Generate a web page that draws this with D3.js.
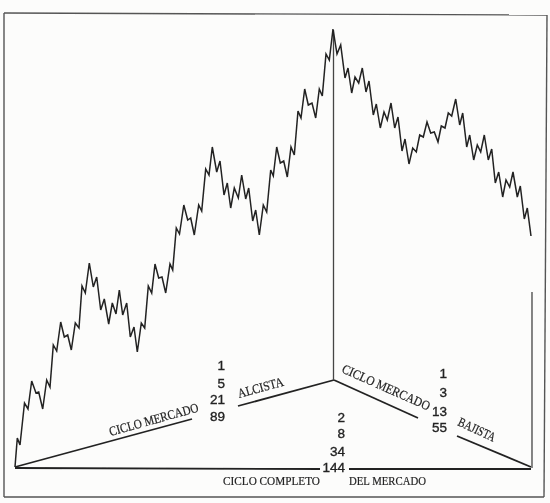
<!DOCTYPE html>
<html><head><meta charset="utf-8">
<script src="https://cdn.jsdelivr.net/npm/d3@7/dist/d3.min.js"></script>
<style>html,body{margin:0;padding:0;background:#fcfcfb}svg{display:block}
text{font-family:"Liberation Serif",serif;fill:#222;stroke:#222;stroke-width:.2}
.num{font-family:"Liberation Sans",sans-serif;stroke-width:.35}</style></head><body>
<svg id="c" width="550" height="503"></svg>
<script>
// time (bar position) and price level
const times=[0,2.3,5,9.5,13,16.7,21,23.7,27.7,31.7,35,38.3,41.7,45.7,49.3,52.7,56.3,60.3,64,67,70.3,74.3,78.3,81.7,85.7,89.3,93.7,97.3,101,104.3,107.7,111.7,115.3,119,122.3,126.3,129.7,133.3,136.7,140,143.7,147,150.7,155,157.7,161.3,164.5,168.8,172.7,175.7,179.3,183.7,186.7,190.7,194,197.3,201.7,205,209,212.3,215.7,219.3,223.3,226.7,230.7,233.7,237.7,240.7,244.3,248.3,251.7,255.7,258.3,261.7,265.3,268.7,272.3,276,279.3,283,286,289.7,293.3,297,300.7,304.3,307.3,311,314.3,318,322,325.7,330,333,336.7,340,343.7,347.3,351,354,358.3,361.3,365.3,369,372.3,376,379.7,383,387,390,394,397.7,401.3,404.7,408.3,412,415.7,419.3,423,426.3,430,433.3,436.7,440.7,444.7,447.7,451.7,454.7,458.7,462.3,465.7,469.3,473.3,476.7,480.3,483.7,487.7,491,494.7,498,502.3,505.3,509.3,512.3,516];
const prices=[0,29,22,64,58,86,74,75,58,87,80,122,116,145,130,132,117,144,139,181,174,204,180,190,157,168,143,164,153,177,152,164,130,140,115,144,139,181,174,203,189,190,174,203,197,239,233,262,247,249,232,262,256,298,292,320,295,306,272,284,259,279,269,292,268,279,246,257,232,262,255,297,291,320,304,306,290,320,312,356,349,378,362,364,349,378,371,413,407,438,413,422,389,399,374,390,384,399,375,386,352,363,339,355,347,364,339,350,316,328,303,319,315,332,330,345,334,335,325,341,339,354,351,368,342,354,320,332,307,322,315,332,307,318,284,295,270,287,280,295,270,281,248,259,231];
const frameEdges=[[4,13,547,15],[547,15,544,497],[544,497,4,497],[4,497,4,13]];
const cycleLegs=[[0,0,177,48],[223,61,319,87],[319,87,403,49],[442,31,516,0],[0,-1,305,-2],[334,-2,516,-2]];
const peakStem=[318.5,437,318.5,87];
const bearStem=[517,175,517,-1];
const numbersBull=["1","5","21","89"];
const numbersBear=["1","3","13","55"];
const numbersAll=["2","8","34","144"];
const slantLabels=["CICLO MERCADO","ALCISTA","CICLO MERCADO","BAJISTA"];
const baseLabels=["CICLO COMPLETO","DEL MERCADO"];

const svg=d3.select("#c");
const defs=svg.append("defs");
defs.append("filter").attr("id","scan").append("feGaussianBlur").attr("stdDeviation",0.35);
const root=svg.append("g").attr("filter","url(#scan)");
const x=d3.scaleLinear().domain([0,516]).range([15,531]);
const y=d3.scaleLinear().domain([0,440]).range([467,27]);
const ink="#222";

root.append("g").selectAll("line").data(frameEdges).join("line")
  .attr("x1",d=>d[0]).attr("y1",d=>d[1]).attr("x2",d=>d[2]).attr("y2",d=>d[3])
  .attr("stroke","#555").attr("stroke-width",1.4);
root.append("g").selectAll("line").data(cycleLegs).join("line")
  .attr("x1",d=>x(d[0])).attr("y1",d=>y(d[1])).attr("x2",d=>x(d[2])).attr("y2",d=>y(d[3]))
  .attr("stroke",ink).attr("stroke-width",1.8);
root.append("g").selectAll("line").data([peakStem,bearStem]).join("line")
  .attr("x1",d=>x(d[0])).attr("y1",d=>y(d[1])).attr("x2",d=>x(d[2])).attr("y2",d=>y(d[3]))
  .attr("stroke","#444").attr("stroke-width",1.3);
root.append("path").datum(times.map((t,i)=>[t,prices[i]]))
  .attr("fill","none").attr("stroke",ink).attr("stroke-width",1.5).attr("stroke-linejoin","miter")
  .attr("d",d3.line().x(d=>x(d[0])).y(d=>y(d[1])));

function stack(vals,right,ys){
  root.append("g").selectAll("text").data(vals).join("text").attr("class","num")
    .attr("x",right).attr("y",(d,i)=>ys[i]).attr("text-anchor","end")
    .attr("font-size",13.5).text(d=>d);
}
stack(numbersBull,225,[370,388,404,421]);
stack(numbersBear,447,[378,397,416,432]);
stack(numbersAll,345,[422,438,456,472]);

const slant=[[110.5,436,-15.5,92],[239,398,-15.5,47],[341,372,24,95],[457,425,25,40]];
slantLabels.forEach((s,i)=>{const p=slant[i];
  root.append("text").attr("transform",`translate(${p[0]},${p[1]}) rotate(${p[2]})`)
    .attr("font-size",13).attr("textLength",p[3]).attr("lengthAdjust","spacingAndGlyphs").text(s);});
baseLabels.forEach((s,i)=>{
  root.append("text").attr("x",[223,349][i]).attr("y",485).attr("font-size",13)
    .attr("textLength",[97,77][i]).attr("lengthAdjust","spacingAndGlyphs").text(s);});
</script></body></html>
